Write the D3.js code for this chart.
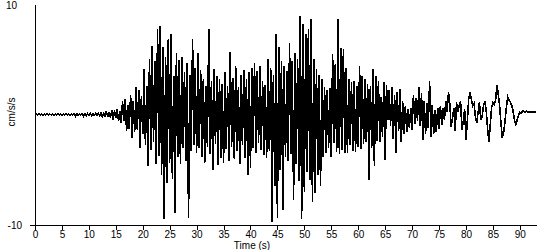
<!DOCTYPE html>
<meta charset="utf-8">
<style>
body { margin: 0; background: #fff; }
text { font: 10px "Liberation Sans", Arial, sans-serif; fill: #000; }
.axis path, .axis line { stroke: #000; shape-rendering: crispEdges; }
.trace { fill: none; stroke: #000; stroke-width: 1.6; stroke-linejoin: miter; shape-rendering: crispEdges; }
</style>
<body>
<svg id="chart" width="550" height="250"></svg>
<script src="https://d3js.org/d3.v7.min.js"></script>
<script>
// sample step of the record, seconds
var dt = 0.25;

// acceleration, cm/s/s, one value every dt from t = 0 to t = 93 s
var accel = [
  0,0.05,-0.05,0.04,-0.04,0.05,-0.05,0.04,
  -0.04,0.05,-0.05,0.04,-0.04,0.05,-0.05,0.04,
  -0.04,0.05,-0.05,0.04,-0.04,0.05,-0.05,0.04,
  -0.04,0.05,-0.05,0.04,-0.04,0.06,-0.15,0.06,
  -0.08,0.05,-0.05,0.08,-0.15,0.06,-0.12,0.08,
  -0.06,0.1,-0.1,0.06,-0.08,0.1,-0.06,0.08,
  -0.1,0.15,-0.2,0.1,-0.15,0.3,-0.25,0.2,
  -0.3,0.4,-0.5,0.35,-0.3,0.5,-0.6,0.3,
  -0.8,1.2,-0.6,1.4,-1.5,0.9,-1.3,1.8,
  -2.1,1.2,-1.6,2.5,-1.4,2.2,-3.0,1.7,
  -1.8,4.1,-2.8,2.6, -4.7,5.0,-3.2,6.2,
  -2.5,4.8,-4.5,7.7, -3.8,8.0,-5.5,6.1,
  -9.5,5.2,-6.2,6.8, -4.4,7.3,-5.8,3.5,
  -8.9,5.6,-3.8,4.9, -4.5,5.2,-3.0,3.8,
  -4.2,4.7,-9.4,3.6, -3.3,6.8,-2.8,4.2,
  -3.5,5.6,-3.0,4.0, -3.8,3.2,-4.4,2.6,
  -2.9,7.7,-3.6,3.0, -5.0,4.1,-2.7,3.5,
  -4.6,3.2,-3.9,2.8, -4.4,3.8,-3.1,2.6,
  -4.2,5.7,-2.9,3.3, -4.0,4.4,-3.3,2.5,
  -4.5,3.6,-2.8,4.0, -3.9,3.2,-5.5,3.8,
  -4.8,4.2,-3.0,4.7, -3.5,3.9,-2.6,4.4,
  -3.2,3.0,-3.7,2.7, -3.9,5.0,-3.3,4.2,
  -9.7,3.6,-6.5,7.3, -9.4,6.1,-5.0,4.8,
  -8.6,4.4,-3.8,3.9, -4.2,6.5,-3.6,4.8,
  -7.7,5.6,-4.5,5.0, -6.0,8.9,-9.5,8.2,
  -7.0,7.3,-5.2,7.7, -5.9,8.6,-7.9,5.0,
  -7.1,4.1,-5.5,3.6, -6.5,3.2,-3.8,2.5,
  -3.5,2.2,-3.0,2.4, -3.8,5.5,-2.6,4.6,
  -3.4,8.6,-3.6,6.0, -3.2,5.9,-3.5,4.2,
  -3.5,3.2,-2.8,2.9, -3.3,3.0,-3.4,2.6,
  -2.9,4.4,-3.1,3.5, -2.7,3.2,-2.5,2.8,
  -5.9,2.6,-3.0,4.1, -4.7,3.5,-2.4,3.0,
  -2.5,1.6,-2.0,2.9, -4.1,2.7,-0.5,2.2,
  -1.0,2.5,-2.2,1.8, -3.5,2.0,-1.5,2.3,
  -2.5,1.2,-1.8,0.8, -1.6,0.5,-1.2,0.6,
  -1.4,1.8,-0.9,1.5, -0.6,2.5,-1.0,1.9,
  -2.3,1.2,-1.8,1.0, -1.2,3.0,-2.0,0.9,
  -1.8,0.4,-1.6,0.6, -1.3,0.8,-0.9,0.6,
  -0.5,1.2,0.2,2.0, 1.0,-1.1,-0.4,0.6,
  -1.5,1.1,0.2,0.8, 1.2,-1.4,-0.6,0.5,
  -2.3,-0.6,1.4,2.0, 1.4,0.8,1.0,-0.2,
  -0.8,0.2,1.1,-0.5, -0.2,0.8,1.2,0.4,
  -1.2,-2.5,-1.0,0.6, 1.1,0.9,1.3,2.7,
  1.8,0.8,-0.8,-2.1, -1.6,-0.6,0.6,1.6,
  1.3,1.1,0.8,0.3, -0.5,-0.9,-0.5,-0.1,
  0.2,0.1,0.3,0.3, 0.2,0.3,0.2,0.2,
  0.2,0.2,0.2,0.2, 0.2
];

var xTicks = [0,5,10,15,20,25,30,35,40,45,50,55,60,65,70,75,80,85,90];
var yTicks = [-10, 10];

var svg = d3.select("#chart");

var x = d3.scaleLinear().domain([0, 93]).range([35, 536]);
var y = d3.scaleLinear().domain([-10, 10]).range([225, 4]);

var line = d3.line()
    .x(function(d, i) { return x(i * dt); })
    .y(function(d) { return y(d); });

svg.append("path")
    .datum(accel)
    .attr("class", "trace")
    .attr("d", line);

var xAxis = svg.append("g")
    .attr("class", "axis")
    .attr("transform", "translate(0,225)")
    .call(d3.axisBottom(x).tickValues(xTicks).tickSize(5).tickSizeOuter(0).tickPadding(1));

var yAxis = svg.append("g")
    .attr("class", "axis")
    .attr("transform", "translate(35,0)")
    .call(d3.axisLeft(y).tickValues(yTicks).tickSize(5).tickSizeOuter(0).tickPadding(8)
      .tickFormat(function(d) { return String(d); }));

// no tick mark at the top of the axis
yAxis.selectAll(".tick").filter(function(d) { return d == 10; })
    .select("line").remove();
yAxis.selectAll(".tick").filter(function(d) { return d == 10; })
    .select("text").attr("x", -18).attr("dy", "0.45em");

svg.append("text")
    .attr("x", 252)
    .attr("y", 249)
    .attr("text-anchor", "middle")
    .text("Time (s)");

svg.append("text")
    .attr("transform", "translate(15,112) rotate(-90)")
    .attr("text-anchor", "middle")
    .text("cm/s/s");
</script>
</body>
